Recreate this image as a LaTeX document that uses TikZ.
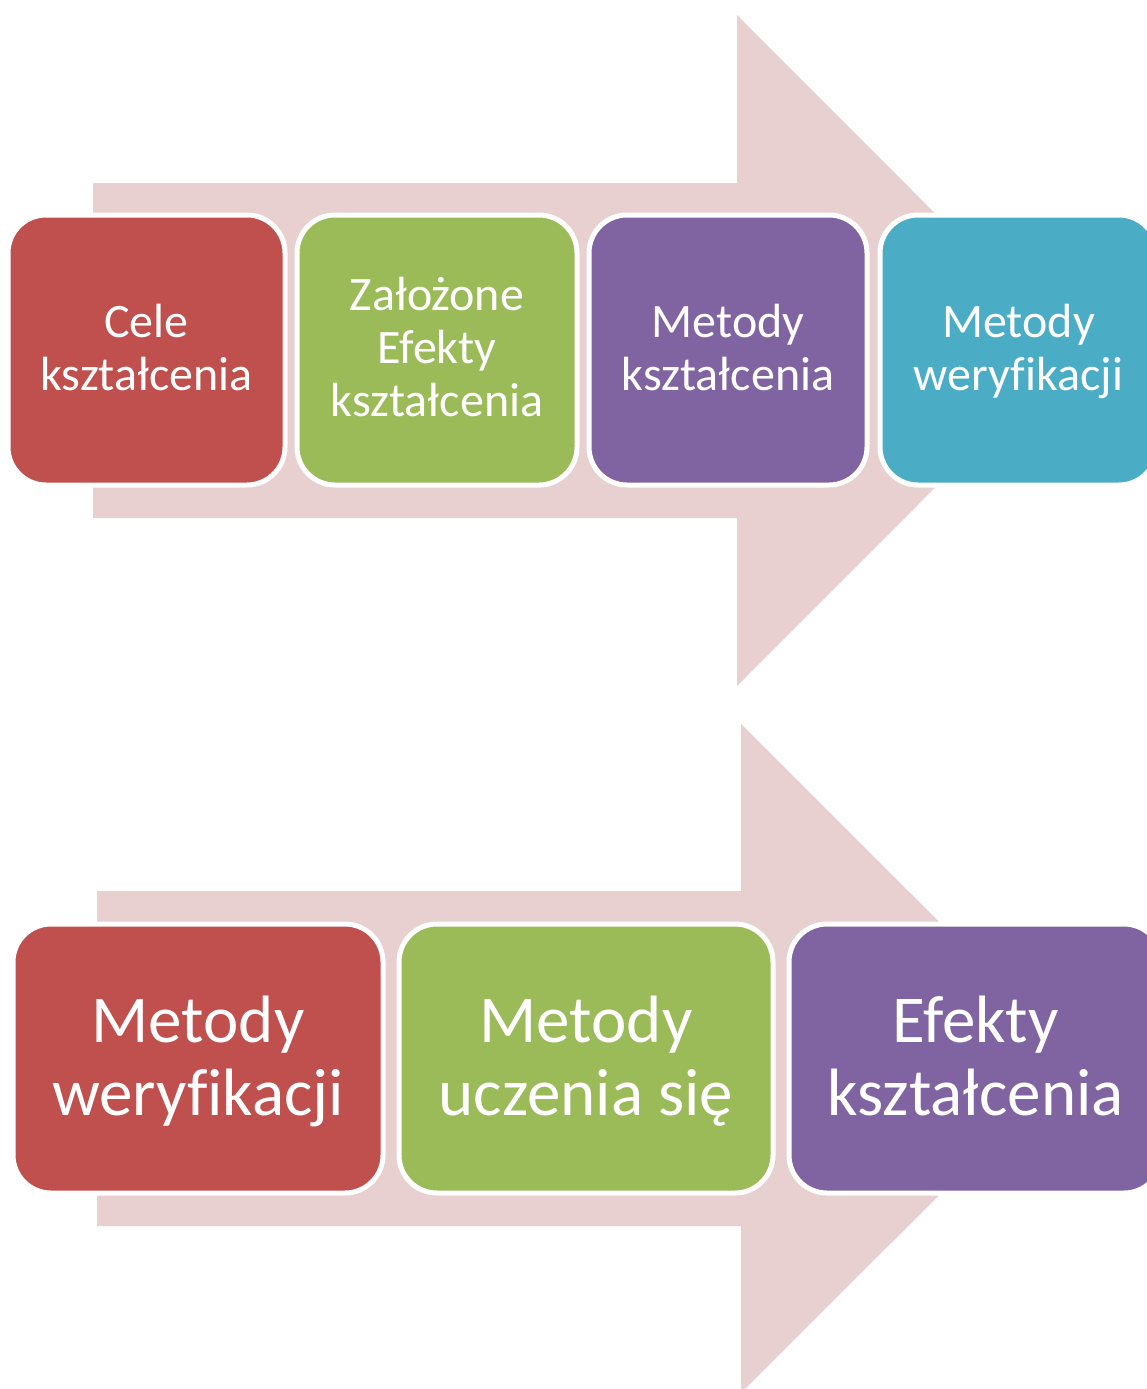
\documentclass[tikz,border=0pt]{standalone}
\usepackage{fontspec}
\setmainfont{Carlito}[Ligatures=NoCommon]
\definecolor{arrowpink}{HTML}{E8D0D1}
\definecolor{cred}{HTML}{C0504D}
\definecolor{cgreen}{HTML}{9BBB59}
\definecolor{cpurple}{HTML}{8064A2}
\definecolor{caqua}{HTML}{4BACC6}
\tikzset{
  bigarrow/.style={fill=arrowpink, draw=none},
  stepbox/.style={draw=white, line width=5pt, rounded corners=38pt, text=white, align=center, inner sep=0pt, text depth=6pt},
  smalltxt/.style={font=\fontsize{48}{53}\selectfont},
  bigtxt/.style={font=\fontsize{67}{73}\selectfont},
}
\begin{document}
\begin{tikzpicture}[x=1pt,y=-1pt]
\useasboundingbox (0,0) rectangle (1147,1389);
\clip (0,0) rectangle (1147,1389);
% top arrow
\fill[bigarrow] (93,183) -- (737,183) -- (737,15) -- (1072,350.5) -- (737,686) -- (737,518) -- (93,518) -- cycle;
% bottom arrow
\fill[bigarrow] (97,891) -- (741,891) -- (741,724) -- (1076,1058.5) -- (741,1393) -- (741,1226) -- (97,1226) -- cycle;
% top row
\node[stepbox, smalltxt, fill=cred, minimum width=277pt, minimum height=270pt] (t1) at (146.5,350) {Cele\\kształcenia};
\node[stepbox, smalltxt, fill=cgreen, minimum width=280pt, minimum height=270pt] (t2) at (437,350) {Założone\\Efekty\\kształcenia};
\node[stepbox, smalltxt, fill=cpurple, minimum width=278pt, minimum height=270pt] (t3) at (728,350) {Metody\\kształcenia};
\node[stepbox, smalltxt, fill=caqua, minimum width=277pt, minimum height=270pt] (t4) at (1018.5,350) {Metody\\weryfikacji};
% bottom row
\node[stepbox, bigtxt, fill=cred, minimum width=370pt, minimum height=269pt] (b1) at (198,1058.5) {Metody\\weryfikacji};
\node[stepbox, bigtxt, fill=cgreen, minimum width=374pt, minimum height=269pt] (b2) at (586,1058.5) {Metody\\uczenia się};
\node[stepbox, bigtxt, fill=cpurple, minimum width=373pt, minimum height=269pt] (b3) at (975.5,1058.5) {Efekty\\kształcenia};
\end{tikzpicture}
\end{document}
